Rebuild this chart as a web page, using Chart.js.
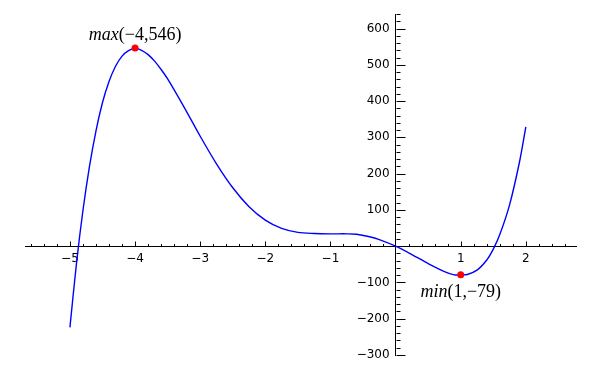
<!DOCTYPE html>
<html>
<head>
<meta charset="utf-8">
<script src="https://cdn.jsdelivr.net/npm/chart.js@4.4.1/dist/chart.umd.min.js"></script>
<style>
  html, body { margin: 0; padding: 0; background: #fff; }
  #wrap { width: 600px; height: 370px; }
</style>
</head>
<body>
<div id="wrap"><canvas id="plot" width="600" height="370"></canvas></div>
<script>
// curve
const curveX = [-5, -4.9, -4.8, -4.7, -4.6, -4.5, -4.4, -4.3, -4.2, -4.1, -4, -3.9, -3.8, -3.7, -3.6, -3.5,
                -3.25, -3, -2.75, -2.5, -2.25, -2, -1.75, -1.5, -1.25, -1, -0.75, -0.6, -0.4, -0.25, 0,
                0.25, 0.5, 0.75, 0.9, 1, 1.1, 1.25, 1.4, 1.5, 1.6, 1.75, 1.9, 2];
const curveY = [-224, -48, 99, 220, 318, 396, 454, 496, 524, 539, 546, 540, 528, 510, 487, 461,
                384, 303, 227, 161, 109, 72, 49, 38, 35, 34, 34, 33, 26, 18, 0,
                -23, -48, -70, -79, -79, -78, -66, -38, -8, 32, 114, 230, 329];

// marked extrema
const extremaX = [-4, 1];
const extremaY = [546, -79];
const extremaName = ['max', 'min'];

// axis labels
const xTickLabels = [-5, -4, -3, -2, -1, 1, 2];
const yTickLabels = [-300, -200, -100, 100, 200, 300, 400, 500, 600];

const minus = v => (v < 0 ? '\u2212' + Math.abs(v) : String(v));

const axisTicks = {
    id: 'axisTicks',
    beforeDatasetsDraw(chart) {
        const ctx = chart.ctx;
        const sx = chart.scales.x, sy = chart.scales.y;
        const x0 = Math.round(sx.getPixelForValue(0)) + 0.5;
        const y0 = Math.round(sy.getPixelForValue(0)) + 0.5;
        ctx.save();
        ctx.strokeStyle = '#000';
        ctx.lineWidth = 1;
        ctx.beginPath();
        for (let i = Math.ceil(sx.min / 0.2); i <= Math.floor(sx.max / 0.2); i++) {
            if (i === 0) continue;
            const px = Math.round(sx.getPixelForValue(i * 0.2)) + 0.5;
            const len = i % 5 === 0 ? 5 : 2.5;
            ctx.moveTo(px, y0);
            ctx.lineTo(px, y0 - len);
        }
        for (let i = Math.ceil(sy.min / 20); i <= Math.floor(sy.max / 20); i++) {
            if (i === 0) continue;
            const py = Math.round(sy.getPixelForValue(i * 20)) + 0.5;
            const len = i % 5 === 0 ? 9 : 4;
            ctx.moveTo(x0, py);
            ctx.lineTo(x0 + len, py);
        }
        ctx.stroke();
        ctx.restore();
    },
    afterDraw(chart) {
        const ctx = chart.ctx;
        const sx = chart.scales.x, sy = chart.scales.y;
        ctx.save();
        ctx.fillStyle = '#000';
        ctx.textBaseline = 'alphabetic';
        extremaX.forEach((xv, i) => {
            const name = extremaName[i];
            const rest = '(' + minus(xv) + ',' + minus(extremaY[i]) + ')';
            const fItal = 'italic 18px "Liberation Serif"';
            const fUp = '18px "Liberation Serif"';
            ctx.font = fItal;
            const w1 = ctx.measureText(name).width;
            ctx.font = fUp;
            const w2 = ctx.measureText(rest).width;
            const cx = sx.getPixelForValue(xv);
            const py = sy.getPixelForValue(extremaY[i]);
            const base = name === 'max' ? py - 8 : py + 22;
            const left = cx - (w1 + w2) / 2;
            ctx.font = fItal;
            ctx.textAlign = 'left';
            ctx.fillText(name, left, base);
            ctx.font = fUp;
            ctx.fillText(rest, left + w1, base);
        });
        ctx.restore();
    }
};

const tickFont = { family: '"DejaVu Sans"', size: 12 };

new Chart(document.getElementById('plot'), {
    type: 'scatter',
    data: {
        datasets: [{
            data: extremaX.map((x, i) => ({ x: x, y: extremaY[i] })),
            backgroundColor: '#ff0000',
            borderColor: '#ff0000',
            pointRadius: 3.5,
            borderWidth: 0,
            showLine: false,
            order: 0
        }, {
            data: curveX.map((x, i) => ({ x: x, y: curveY[i] })),
            borderColor: '#0000ff',
            borderWidth: 1.4,
            pointRadius: 0,
            showLine: true,
            tension: 0.3,
            order: 1
        }]
    },
    options: {
        responsive: false,
        animation: false,
        layout: { padding: { left: 25, right: 24, top: 14, bottom: 15 } },
        plugins: { legend: { display: false }, tooltip: { enabled: false } },
        scales: {
            x: {
                type: 'linear',
                min: -5.69,
                max: 2.77,
                position: { y: 0 },
                afterFit(scale) { scale.height = 0; },
                afterBuildTicks(scale) { scale.ticks = xTickLabels.map(v => ({ value: v })); },
                grid: { display: false, drawTicks: false },
                border: { display: true, color: '#000', width: 1 },
                ticks: { color: '#000', font: tickFont, padding: 6, maxRotation: 0, autoSkip: false,
                         callback: v => minus(v) }
            },
            y: {
                type: 'linear',
                min: -300,
                max: 640,
                position: { x: 0 },
                afterFit(scale) { scale.width = 0; },
                afterBuildTicks(scale) { scale.ticks = yTickLabels.map(v => ({ value: v })); },
                grid: { display: false, drawTicks: false },
                border: { display: true, color: '#000', width: 1 },
                // en space keeps the labels clear of the axis line
                ticks: { color: '#000', font: tickFont, autoSkip: false,
                         callback: v => minus(v) + '\u2002' }
            }
        }
    },
    plugins: [axisTicks]
});
</script>
</body>
</html>
